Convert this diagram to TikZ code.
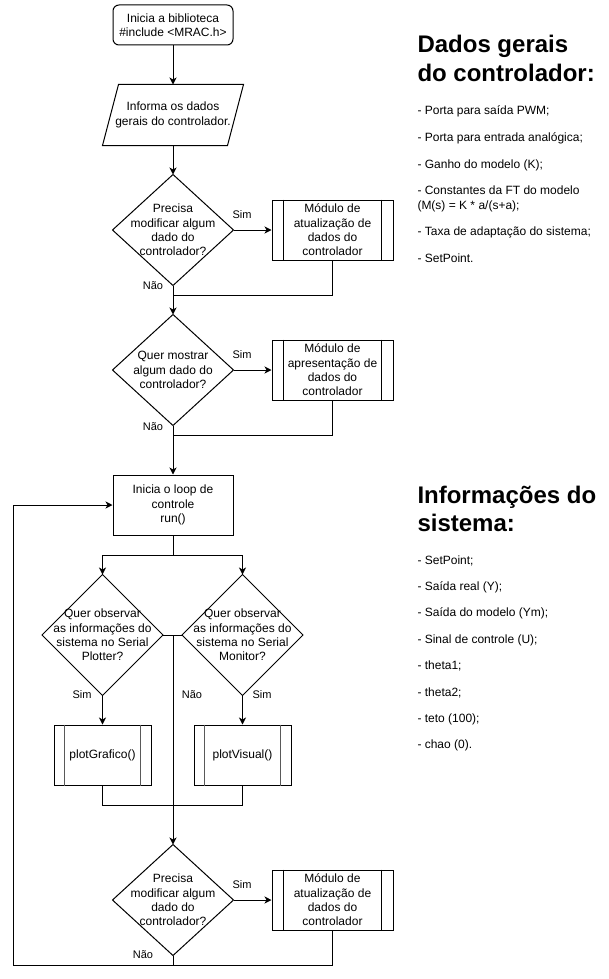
\documentclass[tikz,border=0pt]{standalone}
\usepackage{fontspec}
\setmainfont{Liberation Sans}
\usetikzlibrary{arrows.meta}
\begin{document}
\begin{tikzpicture}[x=1pt,y=-1pt,line width=1pt,
  every node/.style={font=\fontsize{12}{14.4}\selectfont,inner sep=0pt,align=center},
  arr/.style={-{Stealth[length=7pt,width=7pt,inset=2pt]}},
  lbl/.style={font=\fontsize{11}{13}\selectfont},
  blk/.style={draw,minimum width=120pt,minimum height=60pt},
  startbox/.style={draw,rounded corners=6pt,minimum width=120pt,minimum height=40pt},
  dec/.style={minimum width=120pt,minimum height=110pt},
  decbig/.style={minimum width=120pt,minimum height=120pt},
  procbox/.style={draw,minimum width=121pt,minimum height=60pt},
  plotbox/.style={draw,minimum width=97pt,minimum height=60pt},
  inner/.style={line width=1.5pt,black!65},
  ttl/.style={font=\fontsize{24}{29}\selectfont\bfseries,anchor=base west,align=left},
  bul/.style={anchor=base west,align=left}
]
\useasboundingbox (0,0) rectangle (608,979);

% start
\node[startbox] (start) at (173,25) {Inicia a biblioteca\\\#include <MRAC.h>};
% parallelogram
\node[minimum width=140pt,minimum height=60pt] (par) at (173,115) {Informa os dados\\gerais do controlador.};
\draw ([xshift=16pt]par.north west) -- (par.north east) -- ([xshift=-16pt]par.south east) -- (par.south west) -- cycle;

% decision 1
\node[dec] (d1) at (173,230) {Precisa\\modificar algum\\dado do\\controlador?};
\draw (d1.north) -- (d1.east) -- (d1.south) -- (d1.west) -- cycle;
\node[procbox] (p1) at (332.5,230) {Módulo de\\atualização de\\dados do\\controlador};
\draw ([xshift=12pt]p1.north west) -- ([xshift=12pt]p1.south west);
\draw ([xshift=-12pt]p1.north east) -- ([xshift=-12pt]p1.south east);

% decision 2
\node[dec] (d2) at (173,370) {Quer mostrar\\algum dado do\\controlador?};
\draw (d2.north) -- (d2.east) -- (d2.south) -- (d2.west) -- cycle;
\node[procbox] (p2) at (332.5,370) {Módulo de\\apresentação de\\dados do\\controlador};
\draw ([xshift=12pt]p2.north west) -- ([xshift=12pt]p2.south west);
\draw ([xshift=-12pt]p2.north east) -- ([xshift=-12pt]p2.south east);

% loop box
\node[blk] (loop) at (173,505) {Inicia o loop de\\controle\\run()};

% decisions L and R
\node[decbig] (dl) at (102.5,635) {Quer observar\\as informações do\\sistema no Serial\\Plotter?};
\draw (dl.north) -- (dl.east) -- (dl.south) -- (dl.west) -- cycle;
\node[decbig] (dr) at (242.5,635) {Quer observar\\as informações do\\sistema no Serial\\Monitor?};
\draw (dr.north) -- (dr.east) -- (dr.south) -- (dr.west) -- cycle;

% plot boxes
\node[plotbox] (pg) at (102.5,755) {plotGrafico()};
\draw[inner] ([xshift=11pt]pg.north west) -- ([xshift=11pt]pg.south west);
\draw[inner] ([xshift=-11pt]pg.north east) -- ([xshift=-11pt]pg.south east);
\node[plotbox] (pv) at (242.5,755) {plotVisual()};
\draw[inner] ([xshift=11pt]pv.north west) -- ([xshift=11pt]pv.south west);
\draw[inner] ([xshift=-11pt]pv.north east) -- ([xshift=-11pt]pv.south east);

% decision 3
\node[dec] (d3) at (173,900) {Precisa\\modificar algum\\dado do\\controlador?};
\draw (d3.north) -- (d3.east) -- (d3.south) -- (d3.west) -- cycle;
\node[procbox] (p3) at (332.5,900) {Módulo de\\atualização de\\dados do\\controlador};
\draw ([xshift=12pt]p3.north west) -- ([xshift=12pt]p3.south west);
\draw ([xshift=-12pt]p3.north east) -- ([xshift=-12pt]p3.south east);

% coordinates
\coordinate (m1) at (173,295);
\coordinate (m2) at (173,435);
\coordinate (sp) at (173,555);
\coordinate (spl) at (102.5,555);
\coordinate (spr) at (242.5,555);
\coordinate (mid) at (173,635);
\coordinate (mb) at (173,805);
\coordinate (j3) at (173,965);
\coordinate (lb) at (13,965);
\coordinate (lt) at (13,505);

% connectors
\draw[arr] (start) -- (par);
\draw[arr] (par) -- (d1.north);
\draw[arr] (d1.east) -- (p1.west);
\draw[arr] (d1.south) -- (d2.north);
\draw (p1.south) |- (m1);
\draw[arr] (d2.east) -- (p2.west);
\draw[arr] (d2.south) -- (loop.north);
\draw (p2.south) |- (m2);
\draw (loop.south) -- (sp);
\draw[arr] (sp) -- (spl) -- (dl.north);
\draw[arr] (sp) -- (spr) -- (dr.north);
\draw (dl.east) -- (dr.west);
\draw[arr] (mid) -- (d3.north);
\draw[arr] (dl.south) -- (pg.north);
\draw[arr] (dr.south) -- (pv.north);
\draw (pg.south) |- (mb) -| (pv.south);
\draw[arr] (d3.east) -- (p3.west);
\draw[arr] (d3.south) -- (j3) -- (lb) -- (lt) -- (loop.west);
\draw (p3.south) |- (j3);

% labels
\node[lbl] at (242,215) {Sim};
\node[lbl] at (153,286) {Não};
\node[lbl] at (242,355) {Sim};
\node[lbl] at (153,427) {Não};
\node[lbl] at (82,695) {Sim};
\node[lbl] at (262,695) {Sim};
\node[lbl] at (192,695) {Não};
\node[lbl] at (242,885) {Sim};
\node[lbl] at (143,955) {Não};

% right text block 1
\node[ttl] (t1a) at (417,53) {Dados gerais};
\node[ttl] (t1b) at (417,82) {do controlador:};
\node[bul] (b1) at (417,115) {- Porta para saída PWM;};
\node[bul] (b2) at (417,141.5) {- Porta para entrada analógica;};
\node[bul] (b3) at (417,168) {- Ganho do modelo (K);};
\node[bul] (b4) at (417,194.5) {- Constantes da FT do modelo};
\node[bul] (b4b) at (417,209) {(M(s) = K * a/(s+a);};
\node[bul] (b5) at (417,235.5) {- Taxa de adaptação do sistema;};
\node[bul] (b6) at (417,262) {- SetPoint.};

% right text block 2
\node[ttl] (t2a) at (417,503) {Informações do};
\node[ttl] (t2b) at (417,531) {sistema:};
\node[bul] (c1) at (417,564) {- SetPoint;};
\node[bul] (c2) at (417,590.4) {- Saída real (Y);};
\node[bul] (c3) at (417,616.8) {- Saída do modelo (Ym);};
\node[bul] (c4) at (417,643.2) {- Sinal de controle (U);};
\node[bul] (c5) at (417,669.6) {- theta1;};
\node[bul] (c6) at (417,696) {- theta2;};
\node[bul] (c7) at (417,722.4) {- teto (100);};
\node[bul] (c8) at (417,748.8) {- chao (0).};
\end{tikzpicture}
\end{document}
